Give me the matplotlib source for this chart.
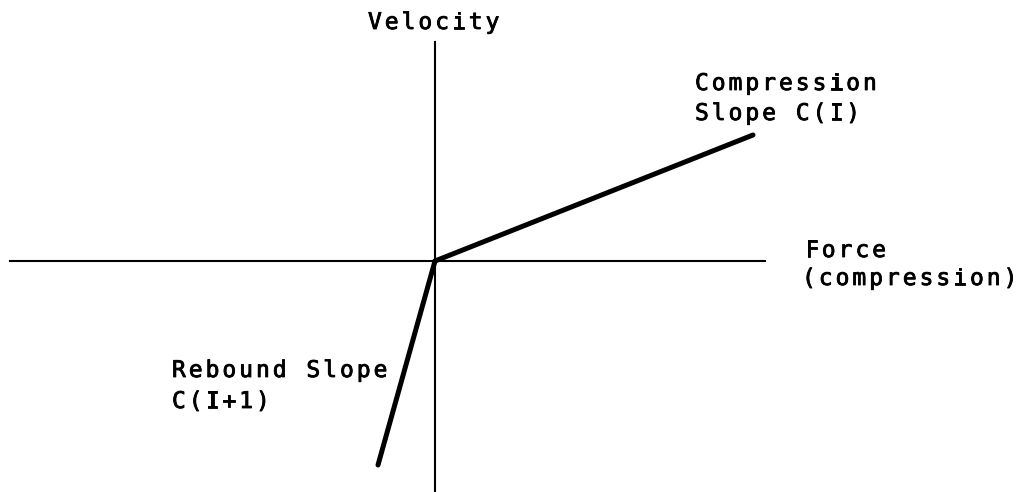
import matplotlib
matplotlib.use("Agg")
from matplotlib import pyplot as plt
from matplotlib import patheffects

# slope lines, from the origin out (force, velocity)
compression_force = [0, 318]
compression_velocity = [0, 126]
rebound_force = [0, -57]
rebound_velocity = [0, -204]

# axis extents
force_axis = [-425, 330]
velocity_axis = [-231, 219]

labels = [
    ("Velocity", -67, 232),
    ("Compression", 260, 171),
    ("Slope C(I)", 260, 141),
    ("Force", 370, 4),
    ("(compression)", 367, -24),
    ("Rebound Slope", -263, -116),
    ("C(I+1)", -263, -147),
]

pitch = 16.8  # typewriter character pitch
ink = [patheffects.withStroke(linewidth=0.6, foreground="black")]


def typed(ax, s, x, y):
    for i, ch in enumerate(s):
        ax.text(x + i * pitch, y, ch, family="DejaVu Sans Mono", fontsize=16.5,
                ha="left", va="baseline", color="black", path_effects=ink)


fig = plt.figure(figsize=(10.29, 4.92), dpi=100)
ax = fig.add_axes([0, 0, 1, 1])
ax.set_xlim(-435, 594)
ax.set_ylim(-231, 261)
ax.axis("off")

ax.plot(force_axis, [0, 0], color="black", lw=1.5)
ax.plot([0, 0], velocity_axis, color="black", lw=1.5)
ax.plot(compression_force, compression_velocity, color="black", lw=3.6,
        solid_capstyle="round")
ax.plot(rebound_force, rebound_velocity, color="black", lw=3.6,
        solid_capstyle="round")

for s, x, y in labels:
    typed(ax, s, x, y)

plt.savefig("out.png", dpi=100, facecolor="white")
